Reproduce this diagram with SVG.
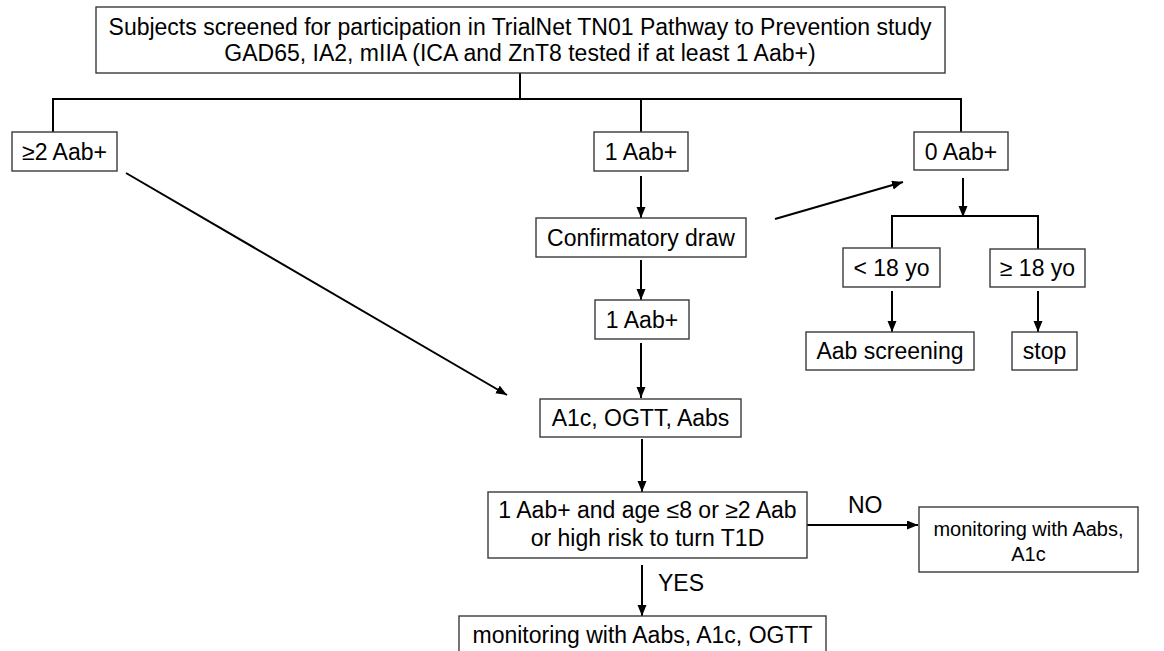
<svg xmlns="http://www.w3.org/2000/svg" width="1164" height="651" viewBox="0 0 1164 651">
<style>
  .box { fill: #ffffff; stroke: #3a3a3a; stroke-width: 1.4; }
  .t { font-family: "Liberation Sans", Arial, sans-serif; font-size: 23px; fill: #000; text-anchor: middle; }
  .ts { font-family: "Liberation Sans", Arial, sans-serif; font-size: 20px; fill: #000; text-anchor: middle; }
  .lbl { font-family: "Liberation Sans", Arial, sans-serif; font-size: 23px; fill: #000; }
  .c { fill: none; stroke: #000; stroke-width: 2; }
  .a { fill: none; stroke: #000; stroke-width: 2; marker-end: url(#ah); }
</style>
<defs>
  <marker id="ah" markerUnits="userSpaceOnUse" markerWidth="12" markerHeight="10" refX="11" refY="4.5" orient="auto">
    <path d="M0,0 L11,4.5 L0,9 z" fill="#000"/>
  </marker>
</defs>
<rect width="1164" height="651" fill="#ffffff"/>

<g id="connectors">
  <path class="c" d="M520,73 V99"/>
  <path class="c" d="M53,132 V99 H961 V132"/>
  <path class="c" d="M641,99 V132"/>
  <path class="a" d="M641,176 V218"/>
  <path class="a" d="M641,260 V300"/>
  <path class="a" d="M641,343 V398"/>
  <path class="a" d="M126,173 L507,395"/>
  <path class="a" d="M775,219 L903,182"/>
  <path class="a" d="M963,178 V217"/>
  <path class="c" d="M892,248 V216 H1038 V249"/>
  <path class="a" d="M892,291 V332"/>
  <path class="a" d="M1038,291 V332"/>
  <path class="a" d="M642,439 V492"/>
  <path class="a" d="M642,565 V616"/>
  <path class="a" d="M807,525 H918"/>
  <text class="lbl" x="658" y="591">YES</text>
  <text class="lbl" x="848" y="513">NO</text>
</g>

<g id="n-top">
  <rect class="box" x="96" y="7" width="849" height="66"/>
  <text class="t" x="520" y="35">Subjects screened for participation in TrialNet TN01 Pathway to Prevention study</text>
  <text class="t" x="520" y="61">GAD65, IA2, mIIA (ICA and ZnT8 tested if at least 1 Aab+)</text>
</g>
<g id="n-2aab">
  <rect class="box" x="12" y="132" width="105" height="39"/>
  <text class="t" x="64.5" y="160">≥2 Aab+</text>
</g>
<g id="n-1aab">
  <rect class="box" x="594" y="132" width="94" height="39"/>
  <text class="t" x="641" y="160">1 Aab+</text>
</g>
<g id="n-0aab">
  <rect class="box" x="914" y="132" width="94" height="38"/>
  <text class="t" x="961" y="160">0 Aab+</text>
</g>
<g id="n-confirm">
  <rect class="box" x="536" y="218" width="210" height="39"/>
  <text class="t" x="641" y="246">Confirmatory draw</text>
</g>
<g id="n-1aab-b">
  <rect class="box" x="595" y="300" width="94" height="39"/>
  <text class="t" x="642" y="328">1 Aab+</text>
</g>
<g id="n-lt18">
  <rect class="box" x="843" y="248" width="97" height="39"/>
  <text class="t" x="891.5" y="276">&lt; 18 yo</text>
</g>
<g id="n-ge18">
  <rect class="box" x="990" y="249" width="95" height="38"/>
  <text class="t" x="1037.5" y="276">≥ 18 yo</text>
</g>
<g id="n-screening">
  <rect class="box" x="806" y="332" width="168" height="38"/>
  <text class="t" x="890" y="359">Aab screening</text>
</g>
<g id="n-stop">
  <rect class="box" x="1012" y="332" width="65" height="38"/>
  <text class="t" x="1044.5" y="359">stop</text>
</g>
<g id="n-a1c">
  <rect class="box" x="540" y="399" width="201" height="38"/>
  <text class="t" x="640.5" y="426">A1c, OGTT, Aabs</text>
</g>
<g id="n-decision">
  <rect class="box" x="488" y="492" width="319" height="66"/>
  <text class="t" x="647.5" y="518">1 Aab+ and age ≤8 or ≥2 Aab</text>
  <text class="t" x="647.5" y="546">or high risk to turn T1D</text>
</g>
<g id="n-no">
  <rect class="box" x="919" y="507" width="219" height="65"/>
  <text class="ts" x="1028.5" y="536">monitoring with Aabs,</text>
  <text class="ts" x="1028.5" y="561">A1c</text>
</g>
<g id="n-yes">
  <rect class="box" x="459" y="616" width="367" height="50"/>
  <text class="t" x="642.5" y="643">monitoring with Aabs, A1c, OGTT</text>
</g>
</svg>
